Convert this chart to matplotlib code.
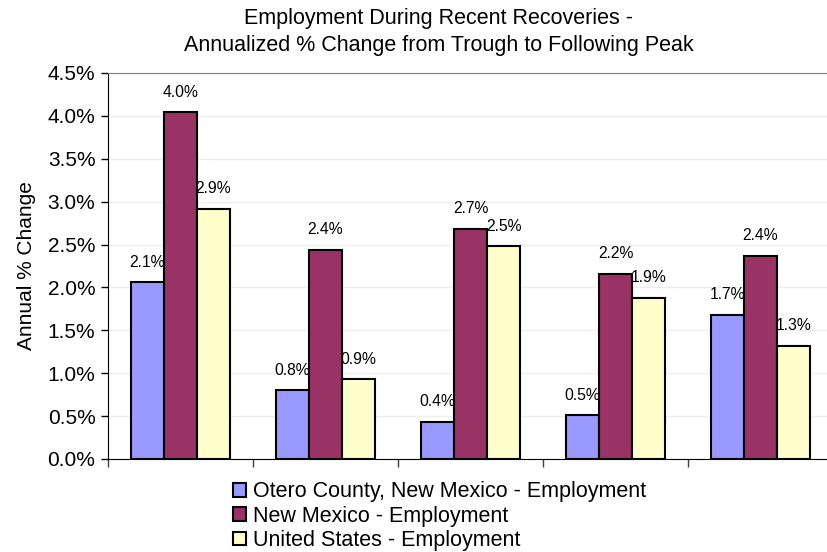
import matplotlib
matplotlib.use("Agg")
import matplotlib.pyplot as plt
import numpy as np
from matplotlib.ticker import FuncFormatter, MultipleLocator

# -------- DATA --------
series_names = [
    "Otero County, New Mexico - Employment",
    "New Mexico - Employment",
    "United States - Employment",
]
otero = [2.06, 0.80, 0.43, 0.51, 1.68]
new_mexico = [4.04, 2.44, 2.68, 2.16, 2.37]
united_states = [2.92, 0.93, 2.48, 1.88, 1.32]
colors = ["#9999FF", "#993366", "#FFFFCC"]
# ----------------------

plt.rcParams["font.family"] = ["Liberation Sans", "DejaVu Sans"]

fig = plt.figure(figsize=(8.28, 5.52), dpi=100)
ax = fig.add_axes([0.1304, 0.1685, 0.8756, 0.6993])

x = np.arange(len(otero))
width = 0.228
all_series = [otero, new_mexico, united_states]

for k, (vals, name, col) in enumerate(zip(all_series, series_names, colors)):
    pos = x + (k - 1) * width
    ax.bar(pos, vals, width, color=col, edgecolor="black", linewidth=1.5,
           label=name, zorder=3)
    for px, v in zip(pos, vals):
        ax.annotate(f"{v:.1f}%", (px, v), xytext=(0, 14.5),
                    textcoords="offset points", ha="center", va="center",
                    fontsize=11.3, zorder=4)

ax.set_xlim(-0.5, 4.5)
ax.set_ylim(0, 4.5)
ax.yaxis.set_major_locator(MultipleLocator(0.5))
ax.yaxis.set_major_formatter(FuncFormatter(lambda v, p: f"{v:.1f}%"))
ax.set_xticks(np.arange(-0.5, 4.6, 1.0))
ax.set_xticklabels([])
ax.tick_params(axis="x", direction="out", length=6, width=1, color="#404040")
ax.tick_params(axis="y", direction="out", length=5, width=1, labelsize=15,
               pad=4)

ax.grid(axis="y", color="#eeeeee", linewidth=1, zorder=0)
ax.set_axisbelow(True)
ax.spines["left"].set_color("black")
ax.spines["bottom"].set_color("black")
ax.spines["top"].set_color("#808080")
ax.spines["right"].set_visible(False)

ax.set_ylabel("Annual % Change", fontsize=15, labelpad=8)

fig.text(0.530, 0.985, "Employment During Recent Recoveries -\n"
         "Annualized % Change from Trough to Following Peak",
         ha="center", va="top", fontsize=15.5, linespacing=1.35)

fig.legend(loc="upper left", bbox_to_anchor=(0.281, 0.128), frameon=False,
           fontsize=15.5, handlelength=0.6, handleheight=0.6,
           handletextpad=0.35, labelspacing=0.16, borderpad=0, borderaxespad=0)

fig.savefig("out.png", dpi=100)
